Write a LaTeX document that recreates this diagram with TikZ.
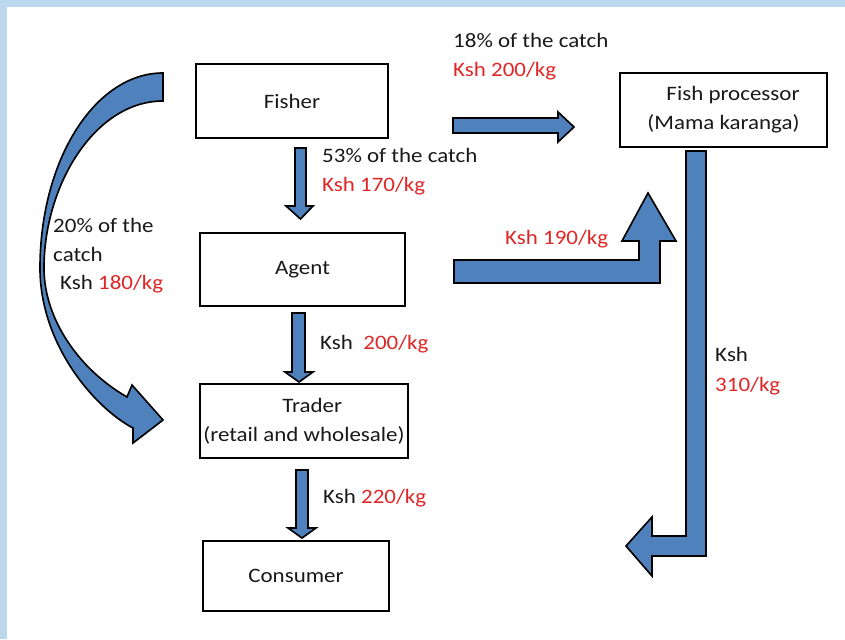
\documentclass[tikz,border=0pt]{standalone}
\usepackage{fontspec}
\setmainfont{Carlito}[FakeStretch=1.12]
\definecolor{framebg}{RGB}{189,215,238}
\definecolor{arrowblue}{RGB}{79,129,189}
\definecolor{pricered}{RGB}{224,38,38}
\definecolor{inkblack}{RGB}{25,25,25}
\newcommand\chainfont{\fontsize{17.5pt}{24.7pt}\selectfont}
\tikzset{
  stage/.style={draw, line width=1.6pt, fill=white, align=center, inner sep=2pt, font=\chainfont, text=inkblack},
  blockarrow/.style={fill=arrowblue, draw=black, line width=1.4pt, line join=miter},
  note/.style={anchor=base west, inner sep=0pt, font=\chainfont, text=inkblack},
}
\begin{document}
\begin{tikzpicture}[x=0.03cm,y=-0.03cm]
                % frame
                \fill[framebg] (0,0) rectangle (845,639);
                \fill[white] (7,7) rectangle (845,639);
                \useasboundingbox (0,0) rectangle (845,639);

                % stages of the chain
                \node[stage, minimum width=5.76cm, minimum height=2.22cm] (fisher) at (292,101) {Fisher};
                \node[stage, minimum width=6.21cm, minimum height=2.22cm, align=right] (processor) at (723.5,110) {Fish processor\\(Mama karanga)};
                \node[stage, minimum width=6.15cm, minimum height=2.19cm] (agent) at (302.5,269.5) {Agent};
                \node[stage, minimum width=6.24cm, minimum height=2.22cm] (trader) at (304,421) {\hspace*{14pt}Trader\\(retail and wholesale)};
                \node[stage, minimum width=5.58cm, minimum height=2.1cm] (consumer) at (296,576) {Consumer};

                % straight block arrows
                \filldraw[blockarrow] (295,148) -- (306,148) -- (306,206) -- (313,206) -- (300.5,219) -- (286,206) -- (295,206) -- cycle;
                \filldraw[blockarrow] (292,313) -- (305,313) -- (305,372) -- (313,372) -- (299,382) -- (285,372) -- (292,372) -- cycle;
                \filldraw[blockarrow] (296,470) -- (308,470) -- (308,528) -- (316,528) -- (302,538) -- (288,528) -- (296,528) -- cycle;
                \filldraw[blockarrow] (453,118) -- (558,118) -- (558,112) -- (574,127) -- (558,142) -- (558,133) -- (453,133) -- cycle;

                % bent block arrows
                \filldraw[blockarrow] (454,283) -- (454,260) -- (639,260) -- (639,241) -- (622,241) -- (648,193) -- (676,241) -- (660,241) -- (660,283) -- cycle;
                \filldraw[blockarrow] (686,151) -- (706,151) -- (706,556) -- (652,556) -- (652,576) -- (626,546) -- (652,517) -- (652,536) -- (686,536) -- cycle;

                % curved block arrow, fisher to trader
                \filldraw[blockarrow] (163,73) .. controls (95,73) and (40,160) .. (40,268)
                    .. controls (40,345) and (95,408) .. (133,428)
                    -- (133,443) -- (163,420) -- (132,385) -- (127,397)
                    .. controls (80,370) and (44,320) .. (44,268)
                    .. controls (44,185) and (95,101) .. (163,101) -- cycle;

                % shares and prices
                \node[note] (share18) at (453,47.5) {18\% of the catch};
                \node[note, text=pricered] (price18) at (453,76.5) {Ksh 200/kg};
                \node[note] (share53) at (322,162.5) {53\% of the catch};
                \node[note, text=pricered] (price53) at (322,191.5) {Ksh 170/kg};
                \node[note] (share20) at (53,232.5) {20\% of the};
                \node[note] (share20b) at (53,261.5) {catch};
                \node[note] (price20) at (60,289.5) {Ksh \textcolor{pricered}{180/kg}};
                \node[note, text=pricered] (priceagent) at (505,244.5) {Ksh 190/kg};
                \node[note] (pricetrader) at (320,349.5) {Ksh\ \ \textcolor{pricered}{200/kg}};
                \node[note] (priceconsumer) at (323,503.5) {Ksh \textcolor{pricered}{220/kg}};
                \node[note] (kshproc) at (715,361.5) {Ksh};
                \node[note, text=pricered] (priceproc) at (715,391.5) {310/kg};
            \end{tikzpicture}
\end{document}
